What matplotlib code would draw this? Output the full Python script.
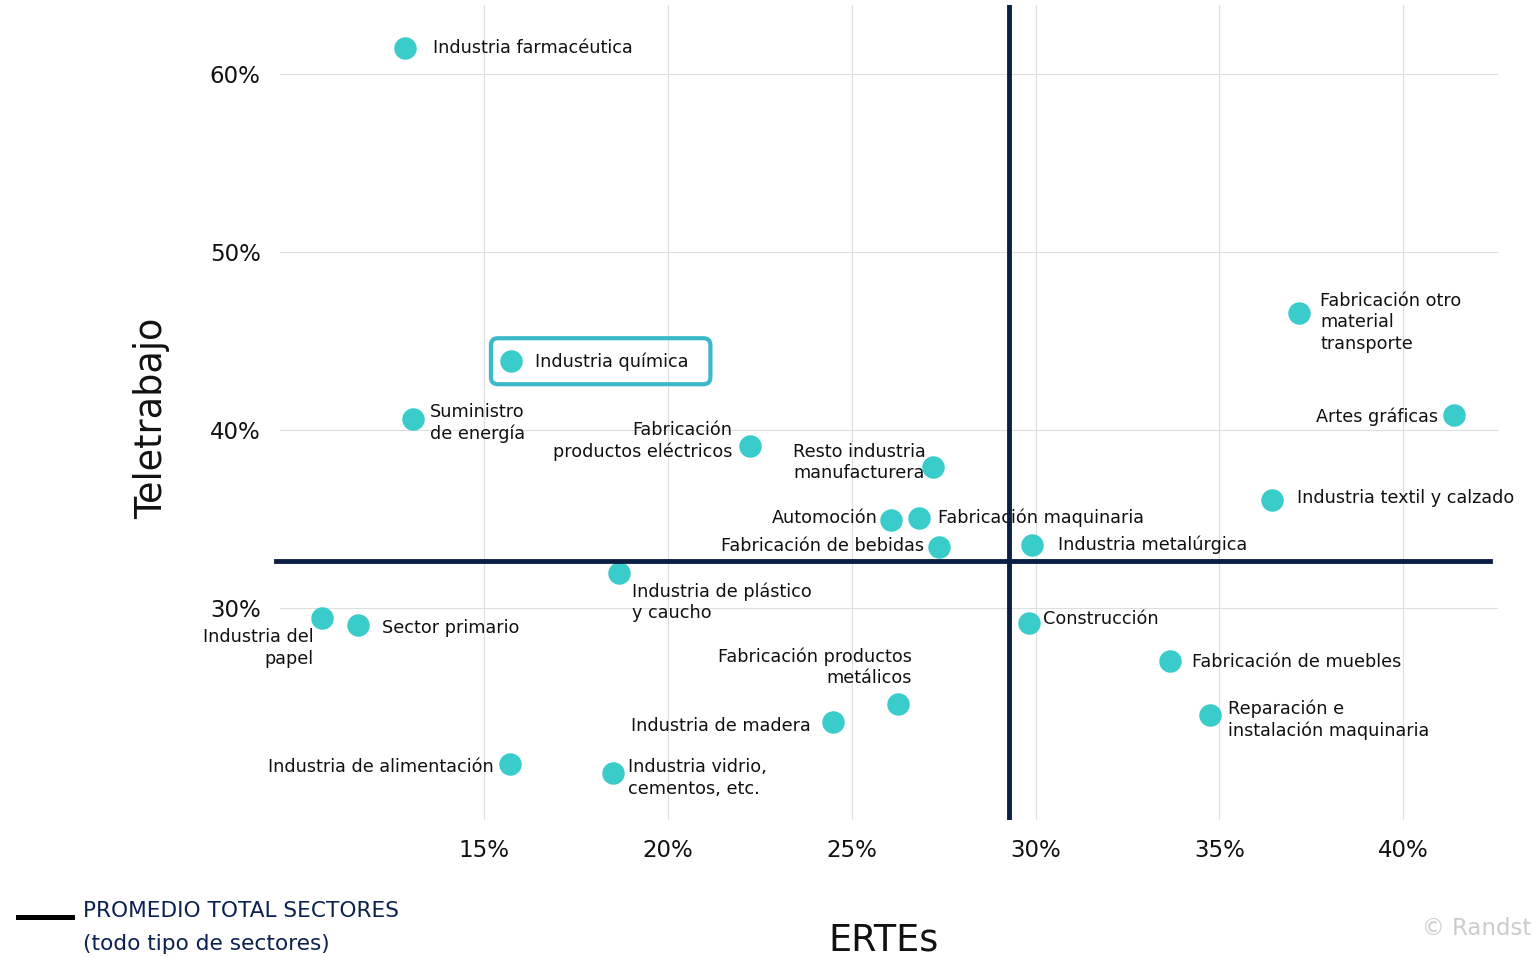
import matplotlib
matplotlib.use("Agg")
import matplotlib.pyplot as plt
from matplotlib.patches import FancyBboxPatch
from matplotlib.lines import Line2D
from matplotlib.transforms import IdentityTransform

plt.rcParams['font.family'] = ['DejaVu Sans']

# datos (porcentaje)
sectores = [
    "Industria farmacéutica", "Industria química", "Suministro\nde energía",
    "Fabricación\nproductos eléctricos", "Resto industria\nmanufacturera",
    "Automoción", "Fabricación maquinaria", "Fabricación de bebidas",
    "Industria metalúrgica", "Fabricación otro\nmaterial\ntransporte",
    "Artes gráficas", "Industria textil y calzado",
    "Industria de plástico\ny caucho", "Industria del\npapel", "Sector primario",
    "Construcción", "Fabricación de muebles", "Fabricación productos\nmetálicos",
    "Industria de madera", "Reparación e\ninstalación maquinaria",
    "Industria de alimentación", "Industria vidrio,\ncementos, etc.",
]
ertes = [12.85, 15.73, 13.07, 22.24, 27.21, 26.07, 26.83, 27.38, 29.91, 37.17,
         41.39, 36.44, 18.67, 10.59, 11.57, 29.83, 33.66, 26.26, 24.49, 34.75,
         15.71, 18.51]
teletrabajo = [61.46, 43.88, 40.62, 39.1, 37.92, 34.94, 35.06, 33.43, 33.54, 46.57,
               40.84, 36.07, 31.97, 29.44, 29.04, 29.16, 27.02, 24.61, 23.6, 23.99,
               21.24, 20.73]
promedio_ertes = 29.28
promedio_teletrabajo = 32.64

x_ticks = [15, 20, 25, 30, 35, 40]
y_ticks = [30, 40, 50, 60]

# posicion de etiquetas (dx, dy en pixeles, alineacion, multialineacion)
label_pos = [
    (28, 0, 'left', 'left'), (24, -1, 'left', 'left'), (17, -4, 'left', 'left'),
    (-18, 5, 'right', 'right'), (-7, 5, 'right', 'left'), (-13, 2, 'right', 'right'),
    (19, 0, 'left', 'left'), (-15, 1, 'right', 'right'), (26, 0, 'left', 'left'),
    (21, -9, 'left', 'left'), (-16, -1, 'right', 'right'), (25, 2, 'left', 'left'),
    (13, -29, 'left', 'left'), (-8, -30, 'right', 'right'), (24, -3, 'left', 'left'),
    (14, 4, 'left', 'left'), (22, -1, 'left', 'left'), (14, 37, 'right', 'right'),
    (-22, -4, 'right', 'right'), (18, -5, 'left', 'left'), (-16, -3, 'right', 'right'),
    (15, -5, 'left', 'left'),
]

teal = "#3ACBCB"
navy = "#0B1F45"

fig = plt.figure(figsize=(15.32, 9.57), dpi=100)
ax = fig.add_axes([0.1828, 0.1432, 0.795, 0.8516])
ax.set_xlim(9.45, 42.58)
ax.set_ylim(18.1, 63.9)

ax.set_xticks(x_ticks)
ax.set_xticklabels([f"{v}%" for v in x_ticks])
ax.set_yticks(y_ticks)
ax.set_yticklabels([f"{v}%" for v in y_ticks])
ax.tick_params(length=0, labelsize=16.5, labelcolor="#111111")
ax.tick_params(axis='x', pad=14)
ax.tick_params(axis='y', pad=14)
ax.grid(True, color="#DDDDDD", lw=0.8)
ax.set_axisbelow(True)
for s in ax.spines.values():
    s.set_visible(False)

ax.scatter(ertes, teletrabajo, s=262, color=teal, zorder=3, linewidths=0)

texts = []
for name, x, y, (dx, dy, ha, ma) in zip(sectores, ertes, teletrabajo, label_pos):
    t = ax.annotate(name, (x, y), xytext=(dx, dy), textcoords='offset pixels',
                    ha=ha, va='center', multialignment=ma, fontsize=12.7,
                    color="#111111", linespacing=1.25, zorder=2)
    texts.append(t)

ax.axvline(promedio_ertes, color=navy, lw=3.5, zorder=4)
ax.axhline(promedio_teletrabajo, xmin=-0.0033, xmax=0.9934, color=navy, lw=3.5,
           zorder=4, clip_on=False)

fig.text(0.0992, 0.563, "Teletrabajo", rotation=90, ha='center', va='center',
         fontsize=26.3, color="#111111")
fig.text(0.5764, 0.0366, "ERTEs", ha='center', va='top', fontsize=26.3,
         color="#111111")

fig.add_artist(Line2D([0.0117, 0.047], [0.0418, 0.0418], color='black', lw=3.6,
                      transform=fig.transFigure))
fig.text(0.0542, 0.0481, "PROMEDIO TOTAL SECTORES", ha='left', va='center',
         fontsize=15.6, color="#0B2250")
fig.text(0.0542, 0.0136, "(todo tipo de sectores)", ha='left', va='center',
         fontsize=15.6, color="#0B2250")
fig.text(0.9995, 0.0303, "© Randst", ha='right', va='center', fontsize=16.5,
         color="#CCCCCC")

# recuadro de Industria química
fig.canvas.draw()
renderer = fig.canvas.get_renderer()
bb = texts[1].get_window_extent(renderer)
px, py = ax.transData.transform((ertes[1], teletrabajo[1]))
x0 = px - 20
box = FancyBboxPatch((x0, py - 23), bb.x1 + 22 - x0, 46,
                     boxstyle="round,pad=0,rounding_size=7",
                     transform=IdentityTransform(), fill=False,
                     edgecolor="#3BB9C9", lw=3)
fig.add_artist(box)

fig.savefig("out.png", dpi=100)
